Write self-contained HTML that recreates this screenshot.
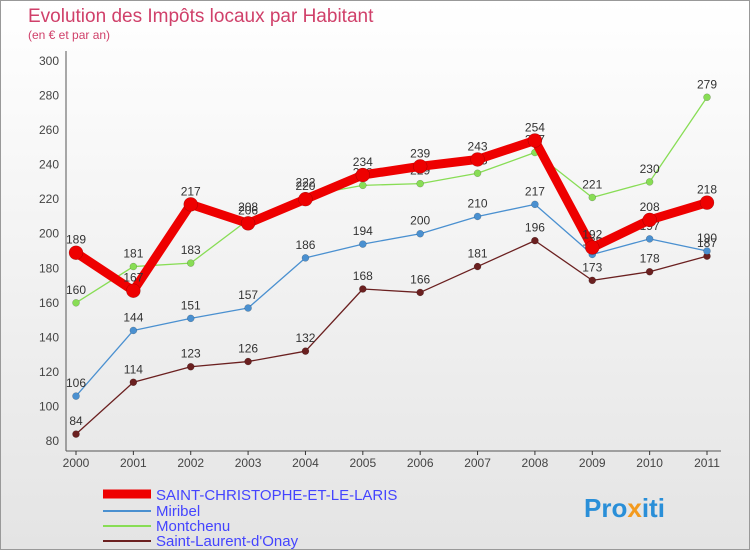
<!DOCTYPE html>
<html><head><meta charset="utf-8"><style>
body{margin:0;width:750px;height:550px;overflow:hidden;font-family:"Liberation Sans",sans-serif;}
#wrap{position:relative;width:748px;height:548px;border:1px solid #999;background:linear-gradient(#fff,#e4e4e4);}
</style></head><body>
<div id="wrap">
<svg id="chart" width="748" height="548">
<text x="27" y="21" font-size="19" fill="#d0406a">Evolution des Impôts locaux par Habitant</text>
<text x="27" y="38" font-size="12" fill="#d0406a">(en € et par an)</text>
<g id="axes"></g><g id="series"></g>
<g>
<line x1="102" y1="493" x2="150" y2="493" stroke="#e00" stroke-width="9"/>
<text x="155" y="499" font-size="15" fill="#44f">SAINT-CHRISTOPHE-ET-LE-LARIS</text>
<line x1="102" y1="510" x2="150" y2="510" stroke="#4a90d0" stroke-width="2"/>
<text x="155" y="515" font-size="15" fill="#44f">Miribel</text>
<line x1="102" y1="525" x2="150" y2="525" stroke="#88dd55" stroke-width="2"/>
<text x="155" y="530" font-size="15" fill="#44f">Montchenu</text>
<line x1="102" y1="540" x2="150" y2="540" stroke="#6b2020" stroke-width="2"/>
<text x="155" y="545" font-size="15" fill="#44f">Saint-Laurent-d'Onay</text>
</g>
<text x="583" y="516" font-size="26" font-weight="bold" fill="#2a8fd8">Pro<tspan fill="#f39a1e">x</tspan>iti</text>
</svg>
</div>
<script>
const years=[2000,2001,2002,2003,2004,2005,2006,2007,2008,2009,2010,2011];
const yTicks=[80,100,120,140,160,180,200,220,240,260,280,300];
const saintChristophe=[189,167,217,206,220,234,239,243,254,192,208,218];
const miribel=[106,144,151,157,186,194,200,210,217,188,197,190];
const montchenu=[160,181,183,208,222,228,229,235,247,221,230,279];
const saintLaurent=[84,114,123,126,132,168,166,181,196,173,178,187];
const NS="http://www.w3.org/2000/svg";
const X=i=>75+i*(706-75)/11;
const Y=v=>440-(v-80)*(380/220);
function mk(t,a,p){const e=document.createElementNS(NS,t);for(const k in a)e.setAttribute(k,a[k]);p.appendChild(e);return e;}
const ax=document.getElementById('axes');
mk('line',{x1:65,y1:50,x2:65,y2:450,stroke:'#555'},ax);
mk('line',{x1:65,y1:450,x2:720,y2:450,stroke:'#555'},ax);
yTicks.forEach(v=>{const t=mk('text',{x:58,y:Y(v)+4,'font-size':12,'text-anchor':'end',fill:'#444'},ax);t.textContent=v;

});
years.forEach((y,i)=>{mk('line',{x1:X(i),y1:450,x2:X(i),y2:454,stroke:'#333'},ax);
const t=mk('text',{x:X(i),y:466,'font-size':12,'text-anchor':'middle',fill:'#444'},ax);t.textContent=y;

});
const sg=document.getElementById('series');
function draw(data,color,w,r,name){
const g=mk('g',{},sg);


mk('polyline',{points:data.map((v,i)=>X(i)+','+Y(v)).join(' '),fill:'none',stroke:color,'stroke-width':w,'stroke-linejoin':'round'},g);
data.forEach((v,i)=>{const c=mk('circle',{cx:X(i),cy:Y(v),r:r,fill:color,stroke:'rgba(0,0,0,0.3)','stroke-width':0.5},g);


const t=mk('text',{x:X(i),y:Y(v)-9,'font-size':12,'text-anchor':'middle',fill:'#333'},g);t.textContent=v;

});
}
draw(saintLaurent,'#6b2020',1.3,3.5,'series-saint-laurent');
draw(miribel,'#4a90d0',1.3,3.5,'series-miribel');
draw(montchenu,'#88dd55',1.3,3.5,'series-montchenu');
draw(saintChristophe,'#ee0000',9,7,'series-saint-christophe');
</script>
</body></html>
